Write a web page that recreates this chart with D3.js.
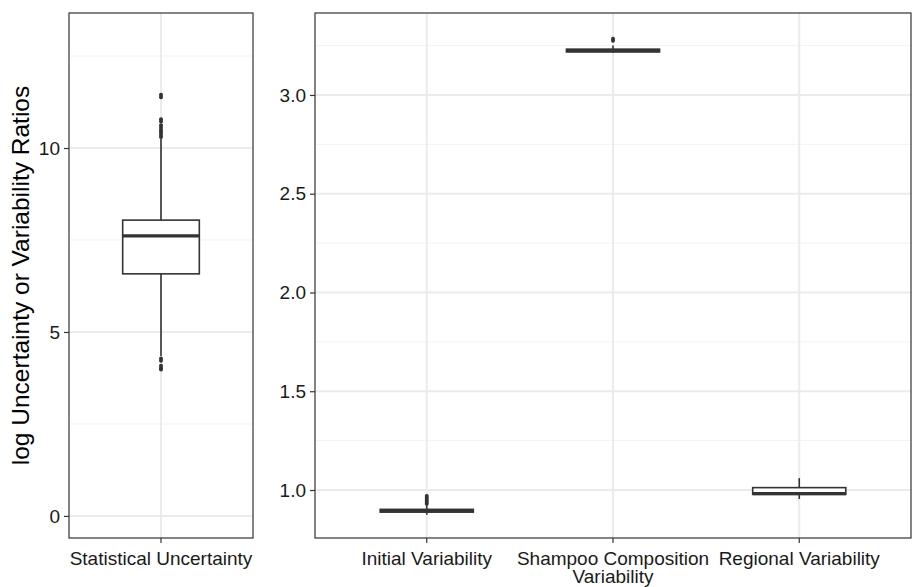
<!DOCTYPE html>
<html>
<head>
<meta charset="utf-8">
<script src="https://cdn.jsdelivr.net/npm/d3@7"></script>
<style>
  body { margin: 0; background: #fff; }
  svg text { font-family: "Liberation Sans", Arial, Helvetica, sans-serif; }
</style>
</head>
<body>
<div id="chart"></div>
<script>
// Left panel: statistical uncertainty (log ratio)
var leftCategories = ["Statistical Uncertainty"];
var leftWhiskerLow = [4.35];
var leftQ1 = [6.58];
var leftMedian = [7.61];
var leftQ3 = [8.04];
var leftWhiskerHigh = [10.25];
var leftOutliers = [[3.98, 4.02, 4.08, 4.22, 4.28, 10.3, 10.36, 10.42, 10.48, 10.55, 10.62, 10.72, 10.78, 11.38, 11.45]];
var leftTicks = [0, 5, 10];

// Right panel: variability ratios
var rightCategories = ["Initial Variability", "Shampoo Composition\nVariability", "Regional Variability"];
var rightWhiskerLow = [0.875, 3.215, 0.955];
var rightQ1 = [0.888, 3.218, 0.978];
var rightMedian = [0.895, 3.224, 0.982];
var rightQ3 = [0.902, 3.232, 1.012];
var rightWhiskerHigh = [0.925, 3.25, 1.06];
var rightOutliers = [[0.93, 0.94, 0.95, 0.96, 0.97], [3.275, 3.285], []];
var rightTicks = [1.0, 1.5, 2.0, 2.5, 3.0];

var width = 912, height = 587;
var svg = d3.select("#chart").append("svg")
    .attr("width", width)
    .attr("height", height);

var panelTop = 13, panelBottom = 538;
var axisFont = 19;

function drawPanel(opts) {
    // ggplot-like discrete expansion: 0.6 units each side
    var n = opts.categories.length;
    var unit = (opts.x1 - opts.x0) / (n - 1 + 1.2);
    var cx = function (i) { return opts.x0 + (0.6 + i) * unit; };
    var y = d3.scaleLinear().domain(opts.domain).range([panelBottom, panelTop]);

    var g = svg.append("g");
    g.append("rect").attr("x", opts.x0).attr("y", panelTop)
        .attr("width", opts.x1 - opts.x0).attr("height", panelBottom - panelTop)
        .attr("fill", "#fff");

    // minor grid
    g.selectAll(".minor").data(opts.minor).enter().append("line")
        .attr("x1", opts.x0).attr("x2", opts.x1)
        .attr("y1", function (d) { return y(d); }).attr("y2", function (d) { return y(d); })
        .attr("stroke", "#f2f2f2").attr("stroke-width", 1);
    // major grid
    g.selectAll(".major").data(opts.ticks).enter().append("line")
        .attr("x1", opts.x0).attr("x2", opts.x1)
        .attr("y1", function (d) { return y(d); }).attr("y2", function (d) { return y(d); })
        .attr("stroke", "#ebebeb").attr("stroke-width", 2);
    g.selectAll(".vgrid").data(opts.categories).enter().append("line")
        .attr("x1", function (d, i) { return cx(i); }).attr("x2", function (d, i) { return cx(i); })
        .attr("y1", panelTop).attr("y2", panelBottom)
        .attr("stroke", "#ebebeb").attr("stroke-width", 2);

    var bw = unit * 0.5;
    opts.categories.forEach(function (c, i) {
        var xc = cx(i);
        // whiskers
        g.append("line").attr("x1", xc).attr("x2", xc)
            .attr("y1", y(opts.q3[i])).attr("y2", y(opts.wHigh[i]))
            .attr("stroke", "#333").attr("stroke-width", 1.6);
        g.append("line").attr("x1", xc).attr("x2", xc)
            .attr("y1", y(opts.q1[i])).attr("y2", y(opts.wLow[i]))
            .attr("stroke", "#333").attr("stroke-width", 1.6);
        // box
        g.append("rect").attr("x", xc - bw / 2).attr("y", y(opts.q3[i]))
            .attr("width", bw).attr("height", Math.max(0.5, y(opts.q1[i]) - y(opts.q3[i])))
            .attr("fill", "#fff").attr("stroke", "#333").attr("stroke-width", 1.6);
        // median
        g.append("line").attr("x1", xc - bw / 2).attr("x2", xc + bw / 2)
            .attr("y1", y(opts.median[i])).attr("y2", y(opts.median[i]))
            .attr("stroke", "#333").attr("stroke-width", 3.2);
        // outliers
        g.selectAll(null).data(opts.outliers[i]).enter().append("circle")
            .attr("cx", xc).attr("cy", function (d) { return y(d); })
            .attr("r", 2).attr("fill", "#333");
    });

    // border
    g.append("rect").attr("x", opts.x0).attr("y", panelTop)
        .attr("width", opts.x1 - opts.x0).attr("height", panelBottom - panelTop)
        .attr("fill", "none").attr("stroke", "#333").attr("stroke-width", 1.2);

    // y axis
    var ya = g.append("g").attr("transform", "translate(" + opts.x0 + ",0)")
        .call(d3.axisLeft(y).tickValues(opts.ticks).tickFormat(opts.fmt).tickSize(5).tickPadding(4));
    ya.select(".domain").remove();
    ya.selectAll("line").attr("stroke", "#333").attr("stroke-width", 1.2);
    ya.selectAll("text").attr("font-size", axisFont).attr("fill", "#1a1a1a")
        .attr("font-family", "Liberation Sans, Arial, sans-serif");

    // x labels
    opts.categories.forEach(function (c, i) {
        var xc = cx(i);
        g.append("line").attr("x1", xc).attr("x2", xc).attr("y1", panelBottom).attr("y2", panelBottom + 5)
            .attr("stroke", "#333").attr("stroke-width", 1.2);
        var t = g.append("text").attr("x", xc).attr("y", panelBottom + 27)
            .attr("text-anchor", "middle").attr("font-size", axisFont).attr("fill", "#1a1a1a");
        c.split("\n").forEach(function (line, k) {
            t.append("tspan").attr("x", xc).attr("dy", k === 0 ? 0 : 18).text(line);
        });
    });
}

drawPanel({
    categories: leftCategories, x0: 69, x1: 253, domain: [-0.6, 13.67],
    ticks: leftTicks, minor: [2.5, 7.5, 12.5], fmt: d3.format("d"),
    wLow: leftWhiskerLow, q1: leftQ1, median: leftMedian, q3: leftQ3, wHigh: leftWhiskerHigh,
    outliers: leftOutliers
});

drawPanel({
    categories: rightCategories, x0: 315, x1: 911, domain: [0.757, 3.415],
    ticks: rightTicks, minor: [1.25, 1.75, 2.25, 2.75, 3.25], fmt: d3.format(".1f"),
    wLow: rightWhiskerLow, q1: rightQ1, median: rightMedian, q3: rightQ3, wHigh: rightWhiskerHigh,
    outliers: rightOutliers
});

svg.append("text")
    .attr("transform", "translate(29," + ((panelTop + panelBottom) / 2) + ") rotate(-90)")
    .attr("text-anchor", "middle").attr("font-size", 24.5).attr("fill", "#000")
    .text("log Uncertainty or Variability Ratios");
</script>
</body>
</html>
